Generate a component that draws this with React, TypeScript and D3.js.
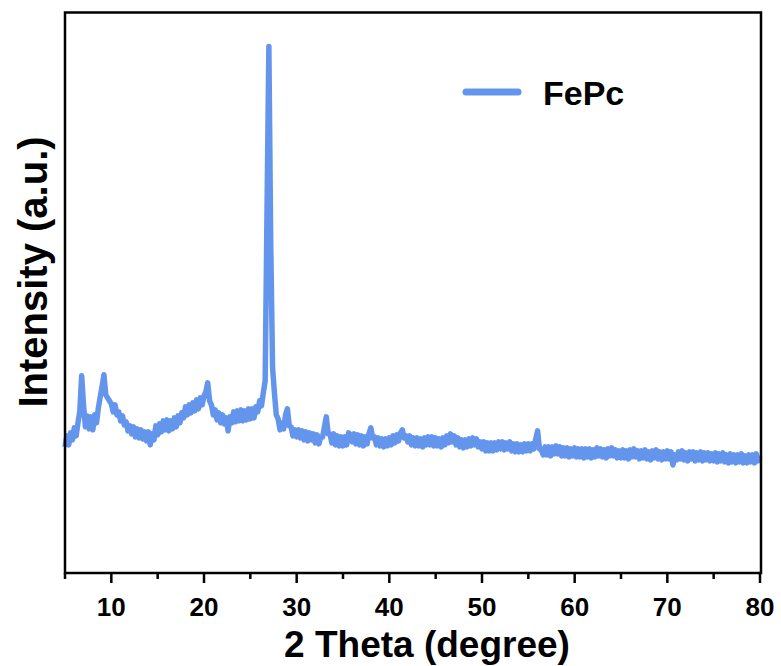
import * as d3 from "d3";

// 2θ scan, 5° to 80°, step 0.2°
const thetaStart = 5;
const thetaStep = 0.2;

const seg05 = [126,137,128,140,133, 145,137,150,162,197, 168,146,157,144,156, 143,158,150,165,176, 186,198,178,175,172, 169,161,168,158,161, 152,157,148,151,142, 147,139,146,136,144, 135,143,134,141,132, 141,128,139,133,147];
const seg15 = [138,149,141,152,143, 153,142,152,144,155, 146,157,150,160,155, 166,158,168,160,170, 162,173,164,175,168, 177,181,190,172,168, 158,163,153,160,150, 158,149,155,142,156, 150,161,151,162,152, 163,152,162,153,164];
const seg25 = [154,164,155,166,161, 172,167,180,192,362, 526,330,205,180,158, 154,143,150,144,158, 164,147,146,137,143, 136,143,135,142,133, 141,132,140,133,139, 130,138,129,136,136, 146,156,139,139,130, 139,128,137,127,136];
const seg35 = [127,136,128,140,138, 131,139,129,138,128, 137,127,136,129,139, 145,135,136,128,135, 127,134,126,134,127, 135,128,137,130,138, 132,140,143,135,137, 131,137,128,135,127, 135,127,134,126,135, 128,136,128,136,127];
const seg45 = [135,127,134,126,135, 128,137,130,139,131, 137,128,135,126,133, 125,133,126,134,127, 135,128,134,126,131, 124,131,122,130,122, 130,122,130,123,131, 124,131,123,130,124, 131,122,129,121,129, 121,128,121,129,122];
const seg55 = [129,122,129,124,134, 142,124,123,118,126, 118,126,117,126,119, 127,119,126,117,125, 117,125,116,124,117, 125,116,124,116,124, 115,124,116,124,115, 123,116,125,117,124, 116,123,115,124,117, 125,117,123,115,122];
const seg65 = [115,123,115,122,114, 123,116,124,116,122, 114,122,115,123,114, 121,113,122,115,123, 114,121,113,121,114, 122,114,121,108,118, 113,121,114,122,113, 120,112,121,114,121, 112,120,113,121,112, 120,113,120,112,119];
const seg75 = [112,120,111,119,112, 120,111,118,110,119, 111,118,110,118,111, 119,110,117,110,118, 111,118,110,119,112, 117];

const intensity = [...seg05, ...seg15, ...seg25, ...seg35, ...seg45, ...seg55, ...seg65, ...seg75];

const majorTicks = [10, 20, 30, 40, 50, 60, 70, 80];
const minorTicks = [5, 15, 25, 35, 45, 55, 65, 75];

const seriesName = "FePc";
const lineColor = "#6495ED";

export default function App() {
  const width = 781;
  const height = 666;
  const left = 65;
  const right = 761;
  const top = 12.5;
  const bottom = 573;

  const x = d3.scaleLinear().domain([5, 80]).range([left, 760]);
  const y = d3.scaleLinear().domain([0, 560]).range([bottom, top]);

  const points = intensity.map((v, i) => [thetaStart + i * thetaStep, v] as [number, number]);
  const line = d3
    .line<[number, number]>()
    .x((d) => x(d[0]))
    .y((d) => y(d[1]));

  const font = "'Liberation Sans', Arial, sans-serif";

  return (
    <div style={{ position: "absolute", left: 0, top: 0 }}>
      <svg width={width} height={height} style={{ display: "block", background: "#fff" }}>
        <path d={line(points) ?? ""} fill="none" stroke={lineColor} strokeWidth={5.5} strokeLinejoin="round" />

        <rect x={left} y={top} width={right - left} height={bottom - top} fill="none" stroke="#000" strokeWidth={2.5} />

        {majorTicks.map((t) => (
          <line key={"M" + t} x1={x(t)} x2={x(t)} y1={bottom} y2={bottom + 10} stroke="#000" strokeWidth={2.5} />
        ))}
        {minorTicks.map((t) => (
          <line key={"m" + t} x1={x(t)} x2={x(t)} y1={bottom} y2={bottom + 6} stroke="#000" strokeWidth={2.5} />
        ))}
        {majorTicks.map((t) => (
          <text key={"L" + t} x={x(t)} y={616} textAnchor="middle" fontFamily={font} fontWeight="bold" fontSize={26} fill="#000">
            {t}
          </text>
        ))}

        <text x={427} y={657} textAnchor="middle" fontFamily={font} fontWeight="bold" fontSize={37} fill="#000">
          2 Theta (degree)
        </text>
        <text
          transform="translate(47, 272) rotate(-90)"
          textAnchor="middle"
          fontFamily={font}
          fontWeight="bold"
          fontSize={40}
          fill="#000"
        >
          Intensity (a.u.)
        </text>

        <line x1={466} x2={518} y1={92} y2={92} stroke={lineColor} strokeWidth={7} strokeLinecap="round" />
        <text x={543} y={105} fontFamily={font} fontWeight="bold" fontSize={34} fill="#000">
          {seriesName}
        </text>
      </svg>
    </div>
  );
}
